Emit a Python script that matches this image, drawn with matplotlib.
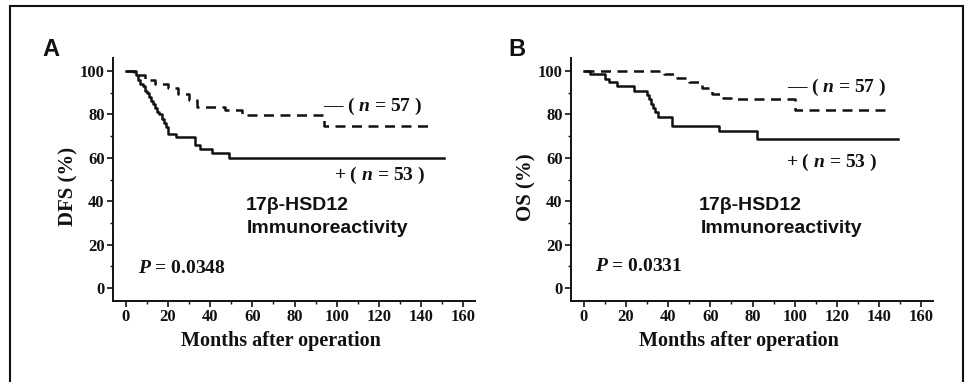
import matplotlib
matplotlib.use('Agg')
import matplotlib.pyplot as plt
from matplotlib.patches import Rectangle
from matplotlib.ticker import MultipleLocator

# Panel A: disease-free survival
dfs_pos_months = [0, 5, 6, 7, 8, 9, 10, 11, 12, 13, 14, 15, 16, 17, 18, 19, 20, 24, 33, 35, 41, 49, 151]
dfs_pos_pct = [100, 98, 96, 94, 93, 91, 90, 88, 86, 85, 83, 81, 80, 78, 76, 74, 71, 69.5, 66, 64, 62, 60, 60]
dfs_neg_months = [0, 4, 9, 14, 20, 25, 30, 34, 47, 55, 94, 145]
dfs_neg_pct = [100, 98, 96, 94, 92, 89.5, 86.5, 83.5, 82, 79.5, 74.5, 74.5]

# Panel B: overall survival
os_pos_months = [0, 3, 10, 12, 16, 24, 30, 31, 32, 33, 34, 35, 42, 64, 82, 149]
os_pos_pct = [100, 98.5, 96.5, 95, 93, 91, 89, 87, 85, 83, 81, 79, 74.5, 72.5, 68.5, 68.5]
os_neg_months = [0, 38, 44, 50, 56, 61, 66, 70, 100, 143]
os_neg_pct = [100, 98.5, 97, 95, 92, 89.5, 87.5, 87, 82, 82]

p_values = ['0.0348', '0.0331']
y_labels = ['DFS (%)', 'OS (%)']
panel_letters = ['A', 'B']

INK = '#111111'
SERIF = 'Liberation Serif'
SANS = 'Liberation Sans'

plt.rcParams['mathtext.fontset'] = 'custom'
plt.rcParams['mathtext.rm'] = 'Liberation Serif:bold'
plt.rcParams['mathtext.it'] = 'Liberation Serif:bold:italic'


def draw_panel(ax, pos_t, pos_v, neg_t, neg_v, ylabel, pval, txt):
    ax.step(pos_t, pos_v, where='post', color=INK, lw=1.8)
    ax.step(neg_t, neg_v, where='post', color=INK, lw=1.8, linestyle=(0, (4, 2.6)))

    ax.set_xlim(-6, 165.5)
    ax.set_ylim(-6, 106)
    ax.xaxis.set_major_locator(MultipleLocator(20))
    ax.xaxis.set_minor_locator(MultipleLocator(10))
    ax.yaxis.set_major_locator(MultipleLocator(20))
    ax.yaxis.set_minor_locator(MultipleLocator(10))
    ax.tick_params(which='major', direction='out', length=4, width=1.2, color=INK, pad=2)
    ax.tick_params(which='minor', direction='out', length=2.5, width=1, color=INK)
    for lbl in ax.get_xticklabels() + ax.get_yticklabels():
        lbl.set_fontfamily(SERIF)
        lbl.set_fontweight('bold')
        lbl.set_fontsize(12)
        lbl.set_color(INK)

    for s in ['top', 'right']:
        ax.spines[s].set_visible(False)
    for s in ['left', 'bottom']:
        ax.spines[s].set_linewidth(1.4)
        ax.spines[s].set_color(INK)

    ax.set_ylabel(ylabel, fontfamily=SERIF, fontweight='bold', fontsize=15, color=INK)
    ax.yaxis.set_label_coords(-0.095, 0.47)
    ax.set_xlabel('Months after operation', fontfamily=SERIF, fontweight='bold', fontsize=14.5,
                  color=INK)
    ax.xaxis.set_label_coords(0.465, -0.125)

    kw = dict(fontfamily=SERIF, fontweight='bold', fontsize=14, color=INK, va='center', ha='left')
    ax.text(txt['neg'][0], txt['neg'][1], r'— ( $\it{n}$ = 57 )', **kw)
    ax.text(txt['pos'][0], txt['pos'][1], r'+ ( $\it{n}$ = 53 )', **kw)
    ax.text(txt['p'][0], txt['p'][1], r'$\it{P}$ = ' + pval, **kw)
    skw = dict(fontfamily=SANS, fontweight='bold', fontsize=14, color=INK, va='center', ha='left')
    ax.text(txt['g'][0], 38, '17β-HSD12', **skw)
    ax.text(txt['g'][0] + 0.6, 27.5, 'Immunoreactivity', **skw)


fig = plt.figure(figsize=(9.69, 3.82), dpi=100)

axA = fig.add_axes([113 / 969, 1 - 301 / 382, 362 / 969, 243 / 382])
axB = fig.add_axes([571 / 969, 1 - 301 / 382, 362 / 969, 243 / 382])

draw_panel(axA, dfs_pos_months, dfs_pos_pct, dfs_neg_months, dfs_neg_pct, y_labels[0], p_values[0],
           {'neg': (93.5, 83.5), 'pos': (98.5, 52), 'p': (5.7, 9.2), 'g': (56.8,)})
draw_panel(axB, os_pos_months, os_pos_pct, os_neg_months, os_neg_pct, y_labels[1], p_values[1],
           {'neg': (96.3, 92.6), 'pos': (95.8, 58), 'p': (5.2, 9.7), 'g': (54.7,)})

fig.text(51 / 969, 1 - 50 / 382, panel_letters[0], fontfamily=SANS, fontweight='bold',
         fontsize=17, color=INK, ha='center', va='center')
fig.text(517 / 969, 1 - 50 / 382, panel_letters[1], fontfamily=SANS, fontweight='bold',
         fontsize=17, color=INK, ha='center', va='center')

# outer frame of the figure panel
fig.patches.append(Rectangle((10 / 969, -0.1), 953 / 969, 1.1 - 6 / 382, transform=fig.transFigure,
                             fill=False, edgecolor=INK, linewidth=1.5))

fig.savefig('out.png', dpi=100)
